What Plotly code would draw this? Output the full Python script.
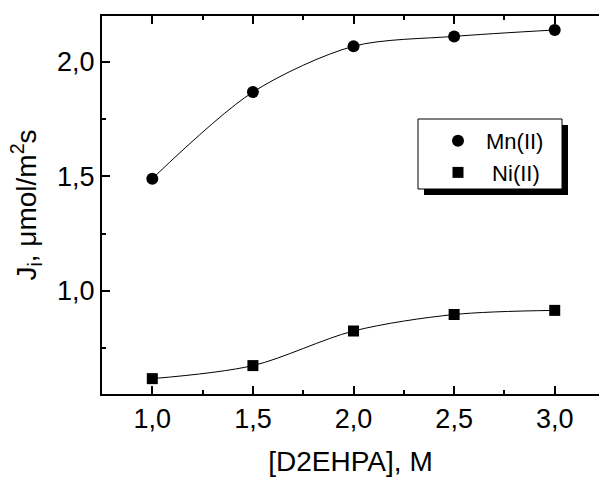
import plotly.graph_objects as go

conc = [1.0, 1.5, 2.0, 2.5, 3.0]
mn_flux = [1.49, 1.868, 2.068, 2.111, 2.139]
ni_flux = [0.617, 0.674, 0.825, 0.897, 0.915]

FONT = "Liberation Sans, Arial, sans-serif"

fig = go.Figure()
fig.add_trace(go.Scatter(x=conc, y=mn_flux, mode="lines", line=dict(color="black", width=1, shape="spline", smoothing=0.85),
                         showlegend=False, hoverinfo="skip"))
fig.add_trace(go.Scatter(x=conc, y=ni_flux, mode="lines", line=dict(color="black", width=1, shape="spline", smoothing=0.9),
                         showlegend=False, hoverinfo="skip"))
fig.add_trace(go.Scatter(x=conc, y=mn_flux, mode="markers", name="Mn(II)",
                         marker=dict(symbol="circle", size=12, color="black")))
fig.add_trace(go.Scatter(x=conc, y=ni_flux, mode="markers", name="\u00a0Ni(II)",
                         marker=dict(symbol="square", size=11, color="black")))

W, H = 599, 479
ml, mr, mt, mb = 102, 0, 16, 85

pw = W - ml - mr
ph = H - mt - mb
def px_x(p): return (p - ml) / pw
def px_y(p): return (H - mb - p) / ph

# legend shadow and frame
fig.add_shape(type="rect", xref="paper", yref="paper",
              x0=px_x(424), x1=px_x(568), y0=px_y(195), y1=px_y(125),
              fillcolor="black", line=dict(width=0), layer="above")
fig.add_shape(type="rect", xref="paper", yref="paper",
              x0=px_x(418), x1=px_x(562), y0=px_y(189), y1=px_y(119),
              fillcolor="white", line=dict(width=1, color="black"), layer="above")

TS = 27
TT = 28
fig.update_layout(
    width=W, height=H,
    margin=dict(l=ml, r=mr, t=mt, b=mb),
    paper_bgcolor="white", plot_bgcolor="white",
    separators=", ",
    font=dict(family=FONT, color="black", size=TS),
    showlegend=True,
    legend=dict(x=px_x(430), y=px_y(120), xanchor="left", yanchor="top",
                bgcolor="rgba(0,0,0,0)", borderwidth=0,
                font=dict(size=22, family=FONT), itemwidth=46,
                tracegroupgap=0),
    xaxis=dict(range=[0.75, 3.22], tick0=1.0, dtick=0.5, tickformat=".1f",
               ticks="inside", ticklen=8, tickwidth=2, tickcolor="black",
               showline=True, linewidth=2, linecolor="black", mirror="ticks",
               showgrid=False, zeroline=False, automargin=False,
               minor=dict(dtick=0.25, tick0=1.0, ticks="inside", ticklen=4, tickwidth=2, tickcolor="black", showgrid=False),
               title=dict(text="[D2EHPA], M", font=dict(size=TT), standoff=18),
               tickfont=dict(size=TS)),
    yaxis=dict(range=[0.55, 2.2], tick0=0.5, dtick=0.5, tickformat=".1f",
               ticks="inside", ticklen=8, tickwidth=2, tickcolor="black",
               showline=True, linewidth=2, linecolor="black", mirror=False,
               showgrid=False, zeroline=False, automargin=False,
               minor=dict(dtick=0.25, tick0=0.5, ticks="inside", ticklen=4, tickwidth=2, tickcolor="black", showgrid=False),
               title=dict(text="J<sub>i</sub>, μmol/m<sup>2</sup>s", font=dict(size=TT), standoff=12),
               tickfont=dict(size=TS)),
)

fig.write_html("out.html", config={"displayModeBar": False},
               post_script="document.body.style.margin='0';document.body.style.overflow='hidden';")
